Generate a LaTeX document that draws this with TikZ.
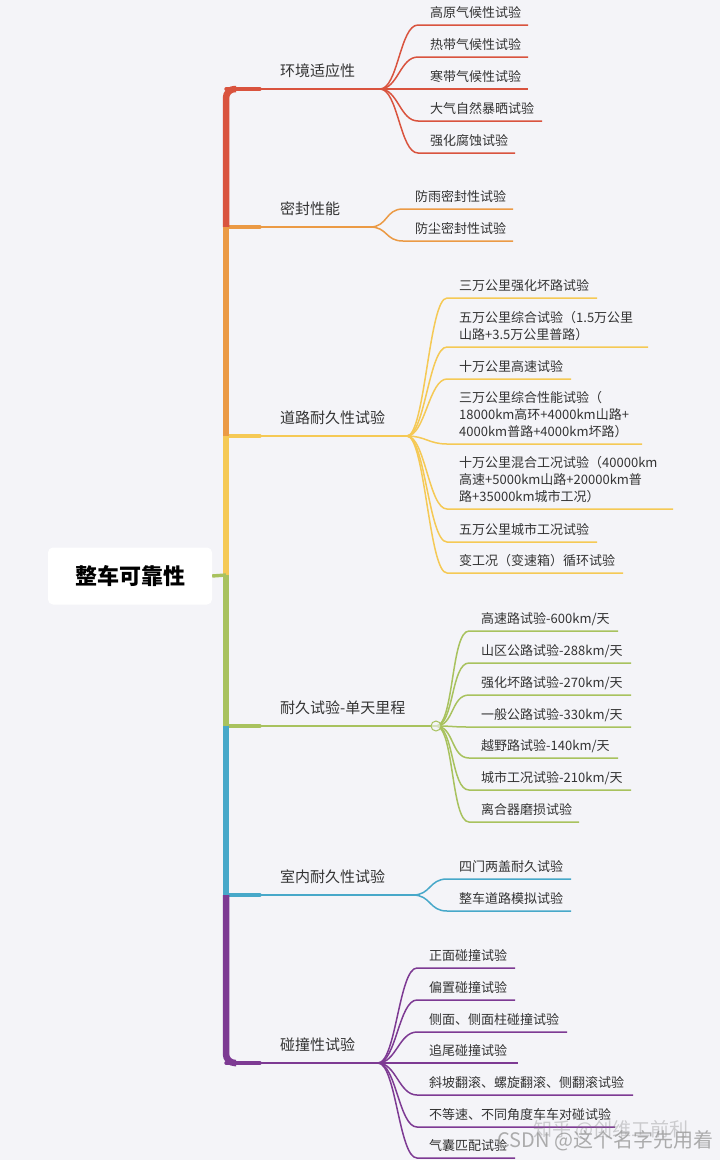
\documentclass[tikz,border=0pt]{standalone}
\usepackage{fontspec}
\setmainfont{Noto Sans CJK SC}
\definecolor{bg}{HTML}{F4F4F8}
\definecolor{txt}{HTML}{333333}
\definecolor{cred}{HTML}{D9533E}
\definecolor{corange}{HTML}{EB9A45}
\definecolor{cyellow}{HTML}{F5C955}
\definecolor{cgreen}{HTML}{A8C25E}
\definecolor{cblue}{HTML}{47A8C9}
\definecolor{cpurple}{HTML}{7D3A93}
\tikzset{
  leaf/.style={inner sep=0pt, text depth=0pt, anchor=south west, align=left,
    font=\fontsize{13}{17}\selectfont, text=txt},
  leafline/.style={line width=1.5pt},
  branchtext/.style={inner sep=0pt, anchor=base west, font=\fontsize{15}{18}\selectfont, text=txt},
  trunkline/.style={line width=6.5pt},
  stubline/.style={line width=3.4pt},
  armline/.style={line width=1.6pt},
  rootbox/.style={fill=white, rounded corners=5pt, minimum width=164pt, minimum height=57pt,
    inner sep=0pt, font=\fontsize{22}{24}\selectfont\bfseries, text=black},
}
\newcommand\mmleaf[7]{%
  \coordinate (#1s) at (#4,#5);
  \coordinate (#1e) at (#6,#5);
  \node[leaf] (#1) at ([xshift=12pt,yshift=7pt]#1s) {#7};
  \draw[#2, leafline] (#3) .. controls +(18pt,0) and +(-18pt,0) .. (#1s) -- (#1e);
}
\begin{document}
\begin{tikzpicture}[x=1pt,y=-1pt]
\fill[bg] (0,0) rectangle (720,1160);
\useasboundingbox (0,0) rectangle (720,1160);

% trunk coordinates
\coordinate (tA) at (226,89);
\coordinate (tB) at (226,227);
\coordinate (tC) at (226,436);
\coordinate (tR) at (226,575);
\coordinate (tD) at (226,726);
\coordinate (tE) at (226,895);
\coordinate (tF) at (226,1063);
% fan points
\coordinate (fA) at (380,89);
\coordinate (fB) at (370,227);
\coordinate (fC) at (407,436);
\coordinate (fD) at (436,726);
\coordinate (fE) at (413,895);
\coordinate (fF) at (378,1063);

% arms (drawn first, trunk on top)
\draw[cred, armline] (tA) -- (fA);
\draw[corange, armline] (tB) -- (fB);
\draw[cyellow, armline] (tC) -- (fC);
\draw[cgreen, armline] (tD) -- (fD);
\draw[cblue, armline] (tE) -- (fE);
\draw[cpurple, armline] (tF) -- (fF);
\draw[cred, stubline, line cap=round] (tA) -- ++(34,0);
\draw[corange, stubline, line cap=round] (tB) -- ++(34,0);
\draw[cyellow, stubline, line cap=round] (tC) -- ++(34,0);
\draw[cgreen, stubline, line cap=round] (tD) -- ++(34,0);
\draw[cblue, stubline, line cap=round] (tE) -- ++(34,0);
\draw[cpurple, stubline, line cap=round] (tF) -- ++(34,0);

% trunk segments
\draw[cred, line width=6.5pt, rounded corners=9pt] (tB) -- (tA) -- (236,89);
\draw[cred, line width=4.5pt, line cap=round] (232,89) -- (248,89);
\draw[corange, trunkline] (tB) -- (tC);
\draw[cyellow, trunkline] (tC) -- (tR);
\draw[cgreen, trunkline] (tR) -- (tD);
\draw[cblue, trunkline] (tD) -- (tE);
\draw[cpurple, line width=6.5pt, rounded corners=9pt] (tE) -- (tF) -- (236,1063);
\draw[cpurple, line width=4.5pt, line cap=round] (232,1063) -- (248,1063);

% root
\node[rootbox] (root) at (130,576) {整车可靠性};
\draw[cgreen, stubline] (root.east) -- (tR);

% branch labels
\node[branchtext] (A) at (280,76) {环境适应性};
\node[branchtext] (B) at (280,214) {密封性能};
\node[branchtext] (C) at (280,423) {道路耐久性试验};
\node[branchtext] (D) at (280,713) {耐久试验-单天里程};
\node[branchtext] (E) at (280,882) {室内耐久性试验};
\node[branchtext] (F) at (280,1050) {碰撞性试验};

% A children
\mmleaf{A1}{cred}{fA}{418}{25}{528}{高原气候性试验}
\mmleaf{A2}{cred}{fA}{418}{57}{528}{热带气候性试验}
\mmleaf{A3}{cred}{fA}{418}{89}{528}{寒带气候性试验}
\mmleaf{A4}{cred}{fA}{418}{121}{542}{大气自然暴晒试验}
\mmleaf{A5}{cred}{fA}{418}{153}{515}{强化腐蚀试验}

% B children
\mmleaf{B1}{corange}{fB}{403}{209}{513}{防雨密封性试验}
\mmleaf{B2}{corange}{fB}{403}{241}{513}{防尘密封性试验}

% C children
\mmleaf{C1}{cyellow}{fC}{447}{298}{597}{三万公里强化坏路试验}
\mmleaf{C2}{cyellow}{fC}{447}{347}{648}{五万公里综合试验（1.5万公里\\山路+3.5万公里普路）}
\mmleaf{C3}{cyellow}{fC}{447}{379}{571}{十万公里高速试验}
\mmleaf{C4}{cyellow}{fC}{447}{444}{642}{三万公里综合性能试验（\\18000km高环+4000km山路+\\4000km普路+4000km坏路）}
\mmleaf{C5}{cyellow}{fC}{447}{509}{673}{十万公里混合工况试验（40000km\\高速+5000km山路+20000km普\\路+35000km城市工况）}
\mmleaf{C6}{cyellow}{fC}{447}{542}{597}{五万公里城市工况试验}
\mmleaf{C7}{cyellow}{fC}{447}{573}{623}{变工况（变速箱）循环试验}

% D children
\mmleaf{D1}{cgreen}{fD}{469}{631}{618}{高速路试验-600km/天}
\mmleaf{D2}{cgreen}{fD}{469}{663}{631}{山区公路试验-288km/天}
\mmleaf{D3}{cgreen}{fD}{469}{695}{631}{强化坏路试验-270km/天}
\mmleaf{D4}{cgreen}{fD}{469}{727}{631}{一般公路试验-330km/天}
\mmleaf{D5}{cgreen}{fD}{469}{758}{618}{越野路试验-140km/天}
\mmleaf{D6}{cgreen}{fD}{469}{790}{631}{城市工况试验-210km/天}
\mmleaf{D7}{cgreen}{fD}{469}{822}{579}{离合器磨损试验}
\node[circle, draw=cgreen, line width=1pt, fill=bg, fill opacity=0.6, minimum size=10pt, inner sep=0pt] (Dc) at (fD) {};

% E children
\mmleaf{E1}{cblue}{fE}{447}{879}{571}{四门两盖耐久试验}
\mmleaf{E2}{cblue}{fE}{447}{911}{571}{整车道路模拟试验}

% F children
\mmleaf{F1}{cpurple}{fF}{417}{968}{515}{正面碰撞试验}
\mmleaf{F2}{cpurple}{fF}{417}{1000}{515}{偏置碰撞试验}
\mmleaf{F3}{cpurple}{fF}{417}{1032}{567}{侧面、侧面柱碰撞试验}
\mmleaf{F4}{cpurple}{fF}{417}{1063}{518}{追尾碰撞试验}
\mmleaf{F5}{cpurple}{fF}{417}{1095}{633}{斜坡翻滚、螺旋翻滚、侧翻滚试验}
\mmleaf{F6}{cpurple}{fF}{417}{1127}{615}{不等速、不同角度车车对碰试验}
\mmleaf{F7}{cpurple}{fF}{417}{1158}{515}{气囊匹配试验}

% watermarks
\node[text=gray, opacity=0.35, font=\fontsize{19}{20}\selectfont, anchor=west] (wm1) at (530,1130) {知乎 @创维工前利};
\node[text=gray!80, opacity=0.8, font=\fontsize{20}{22}\selectfont, anchor=west] (wm2) at (494,1141) {CSDN @这个名字先用着};
\end{tikzpicture}
\end{document}
